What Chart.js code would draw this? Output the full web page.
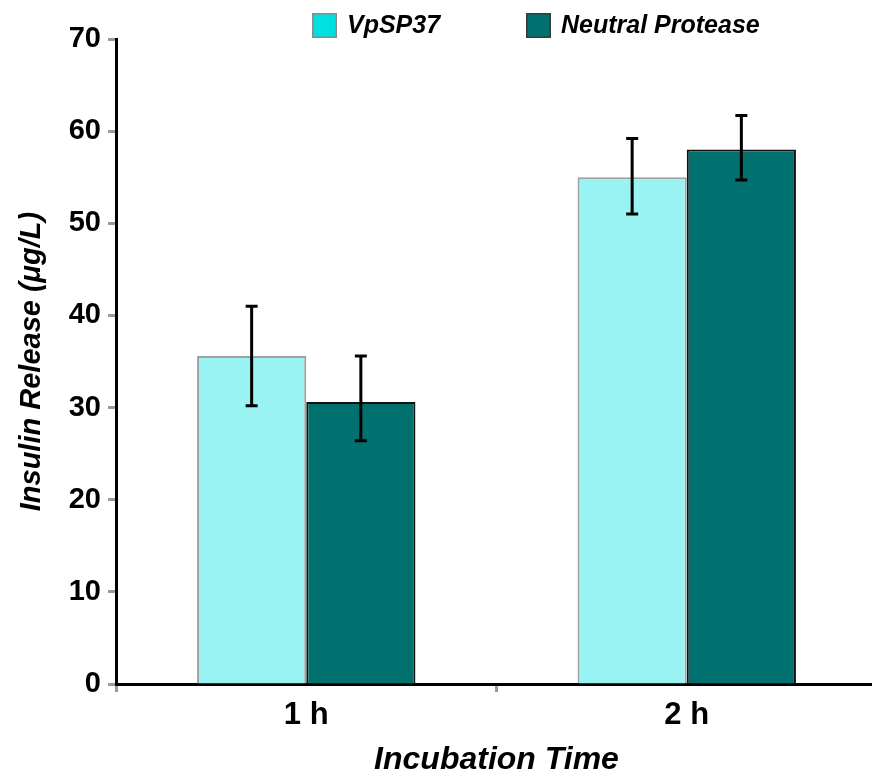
<!DOCTYPE html>
<html>
<head>
<meta charset="utf-8">
<script src="https://cdn.jsdelivr.net/npm/chart.js@4/dist/chart.umd.min.js"></script>
<style>
  html, body { margin: 0; padding: 0; background: #fff; overflow: hidden; }
  #wrap { width: 877px; height: 779px; position: relative; }
</style>
</head>
<body>
<div id="wrap"><canvas id="c"></canvas></div>
<script>
// ---- data ----
const categories = ['1 h', '2 h'];
const seriesNames = ['VpSP37', 'Neutral Protease'];
const vpsp37 = [35.6, 55.0];
const vpsp37Low = [30.2, 51.0];
const vpsp37High = [41.0, 59.2];
const neutral = [30.6, 58.0];
const neutralLow = [26.4, 54.7];
const neutralHigh = [35.6, 61.7];
const yMin = 0, yMax = 70, yStep = 10;
const xTitle = 'Incubation Time';
const yTitle = 'Insulin Release (\u03bcg/L)';

const FONT = "'Liberation Sans', Arial, Helvetica, sans-serif";

const errorBarPlugin = {
  id: 'errorBars',
  afterDatasetsDraw(chart) {
    const ctx = chart.ctx;
    const ys = chart.scales.y;
    ctx.save();
    ctx.strokeStyle = '#000';
    ctx.lineWidth = 3;
    chart.data.datasets.forEach((ds, di) => {
      const meta = chart.getDatasetMeta(di);
      meta.data.forEach((el, i) => {
        const lo = ys.getPixelForValue(ds.errLow[i]);
        const hi = ys.getPixelForValue(ds.errHigh[i]);
        const x = el.x;
        const cap = 6;
        ctx.beginPath();
        ctx.moveTo(x, lo); ctx.lineTo(x, hi);
        ctx.moveTo(x - cap, lo); ctx.lineTo(x + cap, lo);
        ctx.moveTo(x - cap, hi); ctx.lineTo(x + cap, hi);
        ctx.stroke();
      });
    });
    ctx.restore();
  }
};

const legendPlugin = {
  id: 'customLegend',
  afterDraw(chart, args, opts) {
    const ctx = chart.ctx;
    ctx.save();
    chart.data.datasets.forEach((ds, i) => {
      const x = opts.xs[i], y = opts.y, s = opts.size;
      ctx.fillStyle = ds.legendFill;
      ctx.fillRect(x, y, s, s);
      ctx.strokeStyle = ds.legendStroke;
      ctx.lineWidth = 1.5;
      ctx.strokeRect(x + 0.75, y + 0.75, s - 1.5, s - 1.5);
      ctx.fillStyle = '#000';
      ctx.font = 'italic bold 25px ' + FONT;
      ctx.textBaseline = 'middle';
      ctx.textAlign = 'left';
      ctx.fillText(ds.label, x + s + 10, y + s / 2 + 1);
    });
    ctx.restore();
  }
};

new Chart(document.getElementById('c'), {
  type: 'bar',
  data: {
    labels: categories,
    datasets: [
      {
        label: seriesNames[0],
        data: vpsp37,
        errLow: vpsp37Low,
        errHigh: vpsp37High,
        backgroundColor: '#9AF3F3',
        borderColor: '#A0A0A0',
        borderWidth: 2,
        legendFill: '#00E0E0',
        legendStroke: '#8A8A8A'
      },
      {
        label: seriesNames[1],
        data: neutral,
        errLow: neutralLow,
        errHigh: neutralHigh,
        backgroundColor: '#00716E',
        borderColor: '#111111',
        borderWidth: 2,
        legendFill: '#00716E',
        legendStroke: '#3A3A3A'
      }
    ]
  },
  options: {
    responsive: true,
    maintainAspectRatio: false,
    devicePixelRatio: 1,
    animation: false,
    layout: { padding: { top: 39, right: 0, bottom: 0, left: 0 } },
    datasets: { bar: { categoryPercentage: 0.574, barPercentage: 1.0 } },
    plugins: {
      legend: { display: false },
      tooltip: { enabled: false },
      customLegend: { xs: [312, 526], y: 13, size: 25 }
    },
    scales: {
      x: {
        grid: {
          offset: true,
          drawOnChartArea: false,
          drawTicks: true,
          tickLength: 8,
          tickWidth: 3,
          tickColor: '#999999',
          color: '#999999'
        },
        border: { display: true, color: '#000', width: 3 },
        ticks: {
          color: '#000',
          padding: 5,
          font: { family: FONT, size: 31, weight: 'bold' }
        },
        title: {
          display: true,
          text: xTitle,
          color: '#000',
          padding: { top: 0, bottom: 0 },
          font: { family: FONT, size: 32, weight: 'bold', style: 'italic' }
        },
        afterFit(scale) { scale.height = 95; }
      },
      y: {
        min: yMin,
        max: yMax,
        ticks: {
          stepSize: yStep,
          color: '#000',
          padding: 7,
          font: { family: FONT, size: 29, weight: 'bold' }
        },
        grid: {
          drawOnChartArea: false,
          drawTicks: true,
          tickLength: 8,
          tickWidth: 3,
          tickColor: '#999999',
          color: '#999999'
        },
        border: { display: true, color: '#000', width: 3 },
        title: {
          display: true,
          text: yTitle,
          color: '#000',
          padding: { top: 15, bottom: 0 },
          font: { family: FONT, size: 29, weight: 'bold', style: 'italic' }
        },
        afterFit(scale) { scale.width = 116; }
      }
    }
  },
  plugins: [errorBarPlugin, legendPlugin]
});
</script>
</body>
</html>
